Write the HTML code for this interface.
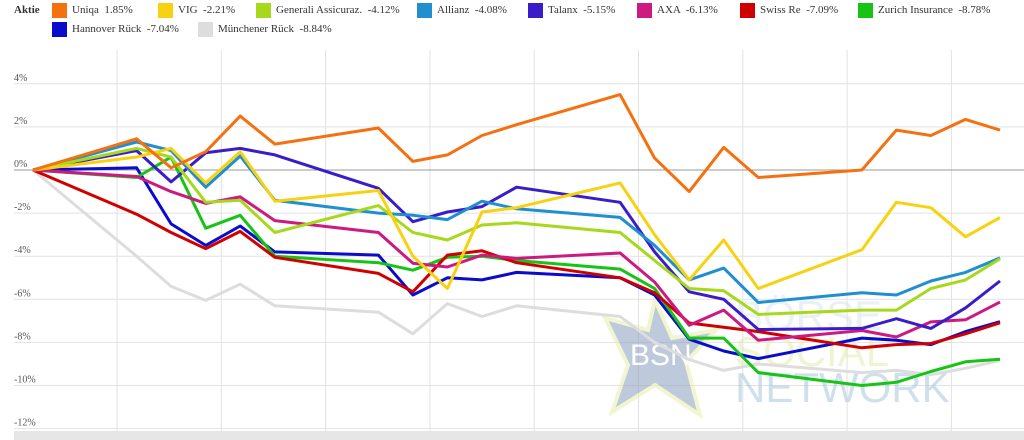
<!DOCTYPE html>
<html><head><meta charset="utf-8"><style>
body{margin:0;background:#fff;width:1024px;height:440px;overflow:hidden;font-family:"Liberation Serif",serif}
.lg{position:absolute;font-size:11px;color:#333;white-space:nowrap}
.sw{position:absolute;width:15px;height:15px}
</style></head><body>
<div id="legend"></div>
<svg id="chart" width="1024" height="440" style="position:absolute;left:0;top:0"></svg>
<script>
const dayIdx=[0,3,4,5,6,7,10,11,12,13,14,17,18,19,20,21,24,25,26,27,28];
const yTicks=[4,2,0,-2,-4,-6,-8,-10,-12];
const seriesNames=["Uniqa","VIG","Generali Assicuraz.","Allianz","Talanx","AXA","Swiss Re","Zurich Insurance","Hannover Rück","Münchener Rück"];
const seriesLast=["1.85%","-2.21%","-4.12%","-4.08%","-5.15%","-6.13%","-7.09%","-8.78%","-7.04%","-8.84%"];
const colors=["#f5700f","#f8d210","#a6d81c","#1f8fd0","#3a1cc8","#cc1a82","#d10000","#16c416","#0a0ccc","#dddddd"];
const uniqa=[0,1.45,0.1,0.85,2.5,1.2,1.95,0.4,0.7,1.6,2.1,3.5,0.55,-1,1.05,-0.35,0,1.85,1.6,2.35,1.85];
const vig=[0,0.6,1.0,-0.6,0.85,-1.45,-0.95,-4.0,-5.5,-1.95,-1.75,-0.6,-3.0,-5.1,-3.25,-5.5,-3.7,-1.5,-1.75,-3.1,-2.21];
const generali=[0,1.0,0.6,-1.5,-1.4,-2.9,-1.65,-2.9,-3.25,-2.55,-2.45,-2.9,-4.2,-5.5,-5.6,-6.7,-6.5,-6.5,-5.5,-5.1,-4.12];
const allianz=[0,1.3,0.9,-0.8,0.65,-1.4,-2.0,-2.1,-2.3,-1.45,-1.8,-2.2,-3.5,-5.1,-4.55,-6.15,-5.7,-5.8,-5.15,-4.75,-4.08];
const talanx=[0,0.9,-0.55,0.8,1.0,0.7,-0.85,-2.4,-1.95,-1.7,-0.8,-1.5,-3.8,-5.65,-6.0,-7.4,-7.35,-6.9,-7.35,-6.4,-5.15];
const axa=[0,-0.3,-1.0,-1.55,-1.25,-2.35,-2.9,-4.33,-4.5,-3.95,-4.1,-3.85,-5.2,-7.2,-6.5,-7.9,-7.45,-7.75,-7.05,-6.95,-6.13];
const swissre=[0,-2.05,-2.9,-3.65,-2.85,-4.05,-4.8,-5.65,-3.95,-3.75,-4.3,-5.0,-5.7,-7.1,-7.3,-7.5,-8.25,-8.1,-8.05,-7.6,-7.09];
const zurich=[0,-0.35,0.6,-2.7,-2.1,-4.0,-4.3,-4.65,-4.05,-4.0,-4.2,-4.6,-5.5,-7.8,-7.8,-9.4,-10.0,-9.85,-9.35,-8.9,-8.78];
const hannover=[0,0.1,-2.5,-3.5,-2.6,-3.8,-3.95,-5.8,-5.0,-5.1,-4.75,-5.0,-5.8,-7.85,-8.4,-8.75,-7.8,-7.9,-8.1,-7.5,-7.04];
const muenchen=[0,-4.0,-5.4,-6.05,-5.3,-6.3,-6.6,-7.6,-6.2,-6.8,-6.3,-6.8,-8.0,-8.8,-9.3,-9.0,-9.4,-9.3,-9.5,-9.2,-8.84];
const allSeries=[uniqa,vig,generali,allianz,talanx,axa,swissre,zurich,hannover,muenchen];

const NS="http://www.w3.org/2000/svg";
const svg=document.getElementById('chart');
const X=d=>33+d*(1000-33)/28;
const Y=v=>170-v*21.55;
function mk(tag,attrs,parent){const e=document.createElementNS(NS,tag);for(const k in attrs)e.setAttribute(k,attrs[k]);(parent||svg).appendChild(e);return e;}
// vertical grid
for(let i=0;i<9;i++){const x=117+i*104.3;
 const l=mk('line',{x1:x,x2:x,y1:50,y2:432,stroke:'#e2e2e2','stroke-width':1});
 
 }
// horizontal grid and labels
yTicks.forEach(t=>{const y=Y(t);
 const l=mk('line',{x1:14,x2:1024,y1:y,y2:y,stroke:t===0?'#999':'#e2e2e2','stroke-width':1});
 
 
 const tx=mk('text',{x:14,y:y-3,'font-size':10,fill:'#555','font-family':'Liberation Serif, serif'});
 tx.textContent=t+'%';
 
 });
// x axis band
const band=mk('rect',{x:14,y:431,width:1010,height:9,fill:'#e6e6e6'});


// watermark
const wm=mk('g',{opacity:0.55});


mk('polygon',{points:'655,300 672,338 716,330 686,362 700,415 655,385 612,412 628,365 605,318 648,330',fill:'#8a9ec0',stroke:'#e6eeaa','stroke-width':4},wm);
const bsn=mk('text',{x:630,y:365,'font-size':30,fill:'#fff','font-family':'Liberation Sans, sans-serif'},wm);bsn.textContent='BSN';
[['BÖRSE',330,'#d8e6f0'],['SOCIAL',366,'#e2ecb0'],['NETWORK',402,'#a8c8e0']].forEach(([s,y,c])=>{const t=mk('text',{x:735,y:y,'font-size':42,fill:c,'font-family':'Liberation Sans, sans-serif'},wm);t.textContent=s;});
// series (draw grey first)
const order=[9,8,7,6,5,4,3,2,1,0];
order.forEach(i=>{const d=allSeries[i].map((v,j)=>(j?'L':'M')+X(dayIdx[j]).toFixed(1)+','+Y(v).toFixed(1)).join('');
 const p=mk('path',{d:d,fill:'none',stroke:colors[i],'stroke-width':3,'stroke-linejoin':'round'});
 
 });
// legend
const lg=document.getElementById('legend');
const ak=document.createElement('div');ak.className='lg';ak.style.cssText='left:14px;top:4px;font-weight:bold';ak.textContent='Aktie';


lg.appendChild(ak);
const pos=[[52,3],[158,3],[256,3],[417,3],[528,3],[637,3],[740,3],[858,3],[52,22],[198,22]];
seriesNames.forEach((n,i)=>{const it=document.createElement('div');
 
 
 const s=document.createElement('div');s.className='sw';s.style.cssText=`left:${pos[i][0]}px;top:${pos[i][1]}px;background:${colors[i]}`;
 const t=document.createElement('div');t.className='lg';t.style.cssText=`left:${pos[i][0]+20}px;top:${pos[i][1]+1}px`;t.textContent=n+'  '+seriesLast[i];t.style.whiteSpace='pre';
 it.appendChild(s);it.appendChild(t);lg.appendChild(it);});
</script>
</body></html>
